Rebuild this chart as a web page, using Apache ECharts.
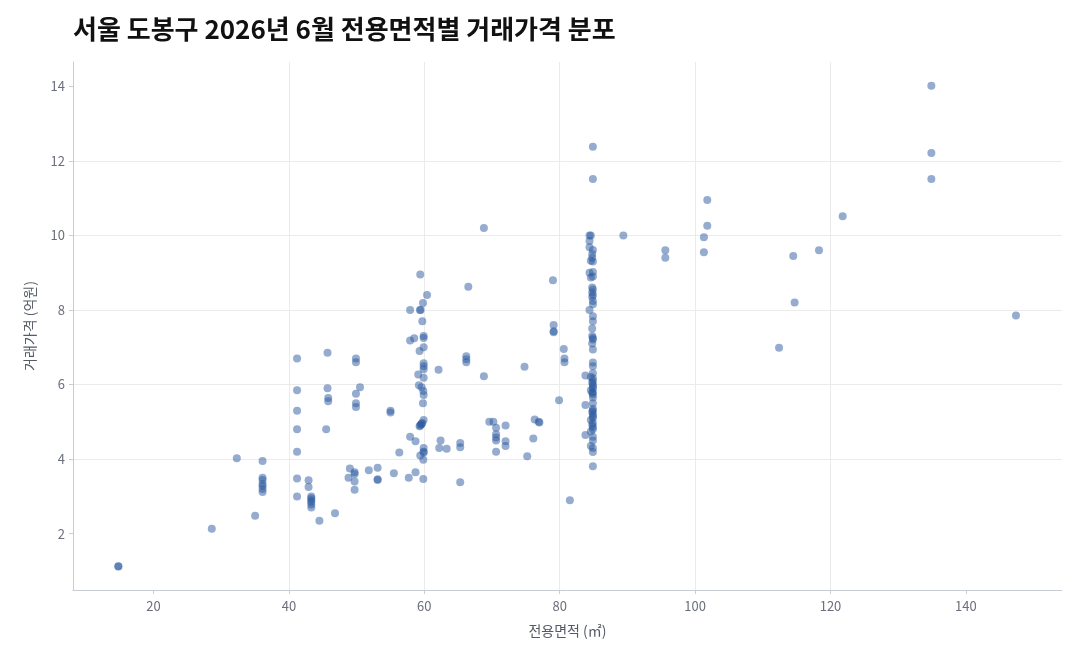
<!DOCTYPE html>
<html style="height: 100%">
<head>
    <meta charset="utf-8">
    <title>서울 도봉구 전용면적별 거래가격</title>
</head>
<body style="height: 100%; margin: 0; background: #fff">
<div id="container" style="width: 1080px; height: 660px"></div>
<script src="https://cdn.jsdelivr.net/npm/echarts@6/dist/echarts.min.js"></script>
<script>
// [전용면적(㎡), 거래가격(억원)]
var under59 = [
    [14.8, 1.13], [14.8, 1.12], [28.6, 2.13], [32.3, 4.02], [35.0, 2.48],
    [36.1, 3.95], [36.1, 3.5], [36.1, 3.44], [36.1, 3.33], [36.1, 3.28], [36.1, 3.2], [36.1, 3.12],
    [41.2, 6.7], [41.2, 5.85], [41.2, 5.3], [41.2, 4.8], [41.2, 4.2], [41.2, 3.48], [41.2, 3.0],
    [42.9, 3.43], [42.9, 3.25], [43.3, 3.0], [43.3, 2.95], [43.3, 2.9], [43.3, 2.85], [43.3, 2.78], [43.3, 2.7],
    [44.5, 2.35], [46.8, 2.55], [45.7, 6.85], [45.7, 5.9], [45.8, 5.64], [45.8, 5.55], [45.5, 4.8],
    [49.0, 3.75], [49.7, 3.65], [49.7, 3.6], [48.8, 3.5], [49.7, 3.4], [49.7, 3.18],
    [49.9, 6.7], [49.9, 6.6], [50.5, 5.93], [49.9, 5.75], [49.9, 5.5], [49.9, 5.4],
    [51.8, 3.7], [53.1, 3.77], [53.1, 3.46], [53.1, 3.44], [55.0, 5.3], [55.0, 5.25],
    [55.5, 3.62], [56.3, 4.18], [57.7, 3.5], [58.7, 3.65], [57.9, 4.6], [58.7, 4.48],
    [57.9, 7.18], [58.5, 7.24], [57.9, 8.0]
];
var near60 = [
    [59.85, 3.47], [59.9, 4.3], [59.9, 4.2], [59.9, 4.18], [59.4, 4.1], [59.85, 3.98],
    [59.4, 4.9], [59.5, 4.93], [59.6, 4.95], [59.3, 4.88], [59.7, 4.97], [59.9, 5.05],
    [59.8, 5.5], [59.9, 5.72], [59.85, 5.83], [59.6, 5.93], [59.2, 5.98], [59.9, 6.18],
    [59.1, 6.27], [59.9, 6.41], [59.9, 6.49], [59.9, 6.57], [59.3, 6.9], [59.9, 7.0],
    [59.9, 7.3], [59.9, 7.25], [59.7, 7.7], [59.35, 8.0], [59.45, 8.0], [59.8, 8.19],
    [60.4, 8.4], [59.4, 8.95]
];
var mid = [
    [62.4, 4.5], [62.2, 4.3], [63.3, 4.28], [65.3, 4.43], [65.3, 4.32], [65.3, 3.38],
    [62.1, 6.4], [66.2, 6.76], [66.2, 6.68], [66.2, 6.6], [66.5, 8.62], [68.8, 10.2], [68.8, 6.22],
    [69.6, 5.0], [70.2, 5.0], [72.0, 4.9], [70.6, 4.84], [70.6, 4.67], [70.6, 4.58], [70.6, 4.5],
    [72.0, 4.48], [72.0, 4.35], [70.6, 4.2], [74.8, 6.48], [75.2, 4.08], [76.1, 4.55],
    [76.3, 5.06], [76.9, 5.0], [77.0, 4.98], [79.0, 8.8], [79.1, 7.6], [79.1, 7.43], [79.1, 7.4],
    [80.6, 6.95], [80.7, 6.7], [80.7, 6.6], [79.9, 5.58], [81.5, 2.9],
    [83.8, 6.24], [83.8, 5.45], [83.8, 4.65]
];
var near85Area = [
    84.9, 84.9, 84.4, 84.6, 84.4, 84.4, 84.9, 84.8, 84.8, 84.6, 84.9, 84.4, 84.9, 84.6, 84.9,
    84.8, 84.9, 84.8, 84.9, 84.8, 84.9, 84.9, 84.4, 84.9, 84.9, 84.8, 84.8, 84.9, 84.9, 84.8,
    84.9, 84.9, 84.9, 84.9, 84.6, 84.9, 84.9, 84.8, 84.9, 84.9, 84.9, 84.6, 84.9, 84.8, 84.9,
    84.9, 84.9, 84.9, 84.9, 84.8, 84.9, 84.9, 84.9, 84.6, 84.9, 84.8, 84.9, 84.9, 84.6, 84.9,
    84.9, 84.6, 84.9, 84.9, 84.9
];
var near85Price = [
    12.38, 11.51, 10.0, 10.0, 9.85, 9.68, 9.61, 9.5, 9.4, 9.32, 9.3, 9.0, 9.02, 8.87, 8.9,
    8.6, 8.55, 8.47, 8.4, 8.35, 8.24, 8.15, 8.0, 7.83, 7.7, 7.5, 7.3, 7.25, 7.21, 7.1,
    6.94, 6.59, 6.49, 6.3, 6.2, 6.17, 6.1, 6.05, 6.0, 5.95, 5.9, 5.85, 5.8, 5.78, 5.73,
    5.65, 5.5, 5.35, 5.3, 5.27, 5.2, 5.15, 5.1, 5.05, 4.97, 4.92, 4.86, 4.8, 4.74, 4.6,
    4.5, 4.35, 4.3, 4.19, 3.81
];
var large = [
    [89.4, 10.0], [95.6, 9.6], [95.6, 9.4], [101.3, 9.95], [101.3, 9.55], [101.8, 10.95],
    [101.8, 10.26], [112.4, 6.99], [114.5, 9.45], [114.7, 8.2], [118.3, 9.6], [121.8, 10.51],
    [134.9, 14.01], [134.9, 12.21], [134.9, 11.51], [147.4, 7.85]
];
var xTicks = [20, 40, 60, 80, 100, 120, 140];
var yTicks = [2, 4, 6, 8, 10, 12, 14];

var points = under59.concat(near60, mid);
for (var i = 0; i < near85Area.length; i++) {
    points.push([near85Area[i], near85Price[i]]);
}
points = points.concat(large);

var font = '"Noto Sans CJK KR", "Noto Sans", sans-serif';
var labelColor = '#6b6f7b';
var chart = echarts.init(document.getElementById('container'));

chart.setOption({
    animation: false,
    backgroundColor: '#ffffff',
    title: {
        text: '서울 도봉구 2026년 6월 전용면적별 거래가격 분포',
        left: 68,
        top: 11,
        textStyle: { fontFamily: font, fontSize: 26, fontWeight: 'bold', color: '#111111' }
    },
    grid: { left: 73, right: 18, top: 62, bottom: 70, containLabel: false },
    xAxis: {
        type: 'value',
        min: 8.1,
        max: 154.2,
        splitNumber: 7,
        name: '전용면적 (㎡)',
        nameLocation: 'middle',
        nameGap: 34,
        nameTextStyle: { fontFamily: font, fontSize: 14, color: '#555a66' },
        axisLine: { show: true, lineStyle: { color: '#c8ccd4', width: 1 } },
        axisTick: { show: true, length: 4, customValues: xTicks, lineStyle: { color: '#c8ccd4' } },
        axisLabel: { customValues: xTicks, margin: 10, fontFamily: font, fontSize: 13, color: labelColor },
        splitLine: { show: true, showMinLine: false, showMaxLine: false, lineStyle: { color: '#ebebeb', width: 1 } }
    },
    yAxis: {
        type: 'value',
        min: 0.49,
        max: 14.65,
        splitNumber: 7,
        name: '거래가격 (억원)',
        nameLocation: 'middle',
        nameGap: 36,
        nameTextStyle: { fontFamily: font, fontSize: 14, color: '#555a66' },
        axisLine: { show: true, lineStyle: { color: '#c8ccd4', width: 1 } },
        axisTick: { show: true, length: 4, customValues: yTicks, lineStyle: { color: '#c8ccd4' } },
        axisLabel: { customValues: yTicks, margin: 8, fontFamily: font, fontSize: 13, color: labelColor },
        splitLine: { show: true, showMinLine: false, showMaxLine: false, lineStyle: { color: '#ebebeb', width: 1 } }
    },
    series: [{
        type: 'scatter',
        data: points,
        symbolSize: 8,
        itemStyle: { color: '#2c5aa0', opacity: 0.5 }
    }]
});
</script>
</body>
</html>
